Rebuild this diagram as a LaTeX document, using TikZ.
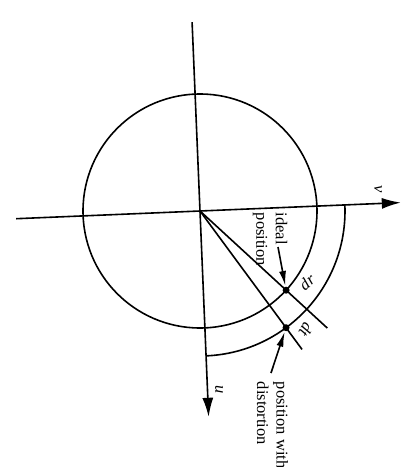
\documentclass[tikz,border=0pt]{standalone}
\usepackage{fontspec}
\setmainfont{Liberation Serif}
\usetikzlibrary{arrows.meta}
\begin{document}
\begin{tikzpicture}[x=1pt,y=1pt,
  line width=1.6pt,
  axis/.style={-{Latex[length=19pt,width=11pt]}},
  ptr/.style={-{Latex[length=15pt,width=7pt]}},
  lbl/.style={font=\fontsize{16.5}{19.5}\selectfont, inner sep=0pt, align=left},
  dot/.style={circle, fill, inner sep=0pt, minimum size=7pt}]
\useasboundingbox (-200,-256) rectangle (214,211);
\begin{scope}[rotate=2.4]
  \coordinate (vL) at (-184,0);
  \coordinate (vR) at (201,0);
  \coordinate (uT) at (0,189);
  \coordinate (uB) at (0,-206);
  \coordinate (O) at (0,0);
  \coordinate (Li) at (-45:173);
  \coordinate (Ld) at (-56:172);
  \draw (O) circle (117);
  \draw (145,0) arc (0:-90:145);
  \node[dot] (ideal) at (-45:117) {};
  \node[dot] (dist) at (-56:145) {};
\end{scope}
\draw[axis] (vL) -- (vR);
\draw[axis] (uT) -- (uB);
\draw (O) -- (Li);
\draw (O) -- (Ld);
\node[lbl, rotate=-90, anchor=west] (idealtxt) at (70,-1) {ideal\\position};
\node[lbl, rotate=-90, anchor=west] (disttxt) at (72.5,-170) {position with\\distortion};
\node[lbl, rotate=40] (dr) at (107,-71) {\textit{dr}};
\node[lbl, rotate=-120] (dt) at (106,-119) {\textit{dt}};
\node[lbl, rotate=-90] (u) at (19,-179) {\textit{u}};
\node[lbl, rotate=-90] (v) at (178,22) {\textit{v}};
\coordinate (ia) at (78,-36);
\coordinate (da) at (71,-162);
\draw[ptr] (ia) -- (ideal);
\draw[ptr] (da) -- (dist);
\end{tikzpicture}
\end{document}
